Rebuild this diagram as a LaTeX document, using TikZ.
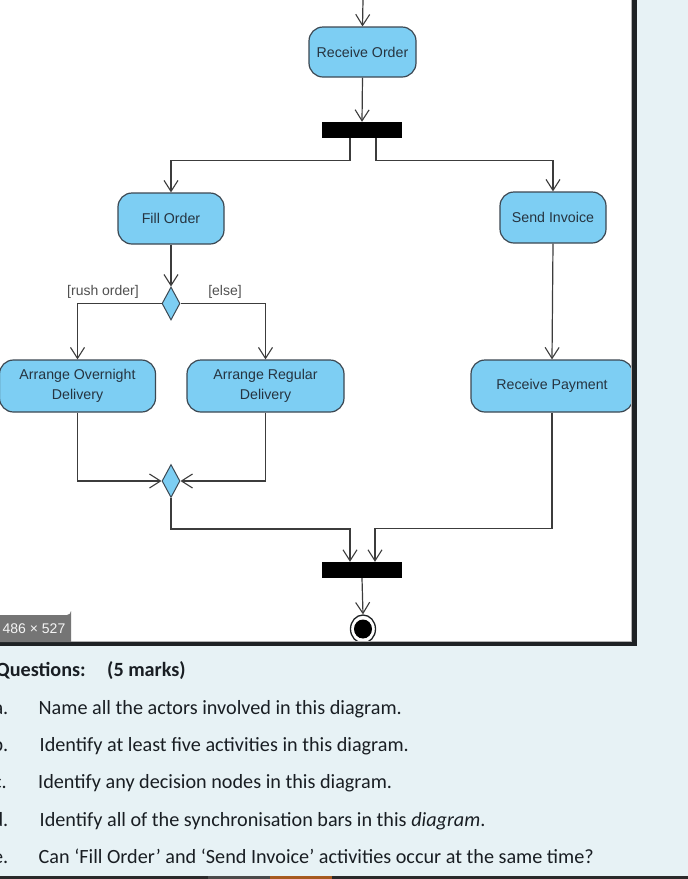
\documentclass[tikz,border=0pt]{standalone}
\usepackage{fontspec}
\usetikzlibrary{arrows.meta,shapes.geometric,calc}
\newfontfamily\dfont{Liberation Sans}
\newfontfamily\qfont{Carlito}
\definecolor{pagebg}{RGB}{231,242,245}
\definecolor{actfill}{RGB}{125,206,243}
\definecolor{actline}{RGB}{60,72,82}
\definecolor{acttext}{RGB}{38,52,64}
\definecolor{flowline}{RGB}{60,60,60}
\definecolor{frameline}{RGB}{30,34,36}
\definecolor{lbltext}{RGB}{80,80,80}
\definecolor{qtext}{RGB}{25,30,35}
\definecolor{barorange}{RGB}{166,90,32}
\definecolor{bargray}{RGB}{74,74,74}
\definecolor{bardark}{RGB}{42,42,42}
\tikzset{
  act/.style={draw=actline, line width=1.2pt, fill=actfill, rounded corners=14pt,
    text=acttext, font=\dfont\fontsize{14.2}{19.5}\selectfont, align=center, inner sep=0pt},
  syncbar/.style={fill=black, draw=none, minimum width=80pt, minimum height=16pt, inner sep=0pt},
  choice/.style={diamond, draw=actline, line width=1pt, fill=actfill, minimum width=18pt,
    minimum height=33pt, inner sep=0pt},
  flow/.style={draw=flowline, line width=1.2pt, -{Straight Barb[length=11pt,width=14pt,line width=1.1pt]}},
  guard/.style={text=lbltext, font=\dfont\fontsize{14}{16}\selectfont, inner sep=0pt},
  qline/.style={text=qtext, font=\qfont\fontsize{20.2}{24}\selectfont, inner sep=0pt, anchor=base west},
  qletter/.style={text=qtext, font=\qfont\fontsize{20.2}{24}\selectfont, inner sep=0pt, anchor=base east}
}
\begin{document}
\begin{tikzpicture}[x=1pt,y=-1pt]
\useasboundingbox (0,0) rectangle (688,879);
\fill[pagebg] (0,0) rectangle (688,879);
\fill[white] (-5,-5) rectangle (634,643);

% activities
\node[act, minimum width=107pt, minimum height=50pt] (ro) at (362.5,52) {Receive Order};
\node[syncbar] (fork) at (362,130) {};
\node[act, minimum width=106pt, minimum height=51pt] (fo) at (171,218.5) {Fill Order};
\node[act, minimum width=106pt, minimum height=51pt] (si) at (553,217.5) {Send Invoice};
\node[choice] (dec) at (171,303.5) {};
\node[act, minimum width=156pt, minimum height=52pt] (aod) at (77.5,386) {Arrange Overnight\\Delivery};
\node[act, minimum width=157pt, minimum height=52pt] (ard) at (265.5,386) {Arrange Regular\\Delivery};
\node[act, minimum width=162pt, minimum height=52pt] (rp) at (552,386) {Receive Payment};
\node[choice] (mer) at (171,481) {};
\node[syncbar] (join) at (362,570) {};
\node[ellipse, draw=frameline, line width=1.3pt, fill=white, minimum width=25pt, minimum height=28pt, inner sep=0pt] (final) at (363,629) {};
\fill[black] (final.center) ellipse [x radius=9pt, y radius=9.5pt];

% guards
\node[guard] (g1) at (103,292) {[rush order]};
\node[guard] (g2) at (225,292) {[else]};

% flows
\coordinate (start) at (363,0);
\draw[flow] (start) -- (ro.north);
\draw[flow] (ro.south) -- (fork.north);
\draw[flow] ([xshift=-12pt]fork.south) -- ++(0,22) -| (fo.north);
\draw[flow] ([xshift=14pt]fork.south) -- ++(0,22) -| (si.north);
\draw[flow] (fo.south) -- (dec.north);
\draw[flow] (dec.west) -| (aod.north);
\draw[flow] (dec.east) -| (ard.north);
\draw[flow] (si.south) -- (rp.north);
\draw[flow] (aod.south) |- (mer.west);
\draw[flow] (ard.south) |- (mer.east);
\draw[flow] (mer.south) -- ++(0,31) -| ([xshift=-12pt]join.north);
\draw[flow] (rp.south) -- ++(0,116) -| ([xshift=13pt]join.north);
\draw[flow] (join.south) -- (final.north);

% frame
\fill[frameline] (632,-5) rectangle (637,645.5);
\fill[frameline] (-5,642) rectangle (637,645.5);
\draw[gray!60, line width=0.8pt] (-5,641.5) -- (631.5,641.5) -- (631.5,-5);

% size badge
\fill[gray!92!black] (-5,615) -- (67,615) arc[start angle=90, end angle=0, radius=4] -- (71,642) -- (-5,642) -- cycle;
\node[text=white!92!gray, font=\dfont\fontsize{14}{15}\selectfont, inner sep=0pt] (badge) at (34,629) {486 × 527};

% questions
\node[text=qtext, font=\qfont\bfseries\fontsize{20.2}{24}\selectfont, inner sep=0pt, anchor=base east] (qh) at (86,676.5) {Questions:};
\node[text=qtext, font=\qfont\bfseries\fontsize{20.2}{24}\selectfont, inner sep=0pt, anchor=base west] (qm) at (107,676.5) {(5 marks)};
\node[qletter] (la) at (8.5,714) {a.};
\node[qline] (qa) at (38.5,714) {Name all the actors involved in this diagram.};
\node[qletter] (lb) at (8.5,751) {b.};
\node[qline] (qb) at (39.5,751) {Identify at least five activities in this diagram.};
\node[qletter] (lc) at (7,788.5) {c.};
\node[qline] (qc) at (38,788.5) {Identify any decision nodes in this diagram.};
\node[qletter] (ld) at (8.5,826) {d.};
\node[qline] (qd) at (39.5,826) {Identify all of the synchronisation bars in this \textit{diagram}.};
\node[qletter] (le) at (8.5,863) {e.};
\node[qline] (qe) at (38.5,863) {Can ‘Fill Order’ and ‘Send Invoice’ activities occur at the same time?};

% bottom bar
\fill[bardark] (0,876) rectangle (688,879);
\fill[bargray] (208,876) rectangle (270,879);
\fill[barorange] (270,876) rectangle (332,879);
\end{tikzpicture}
\end{document}
